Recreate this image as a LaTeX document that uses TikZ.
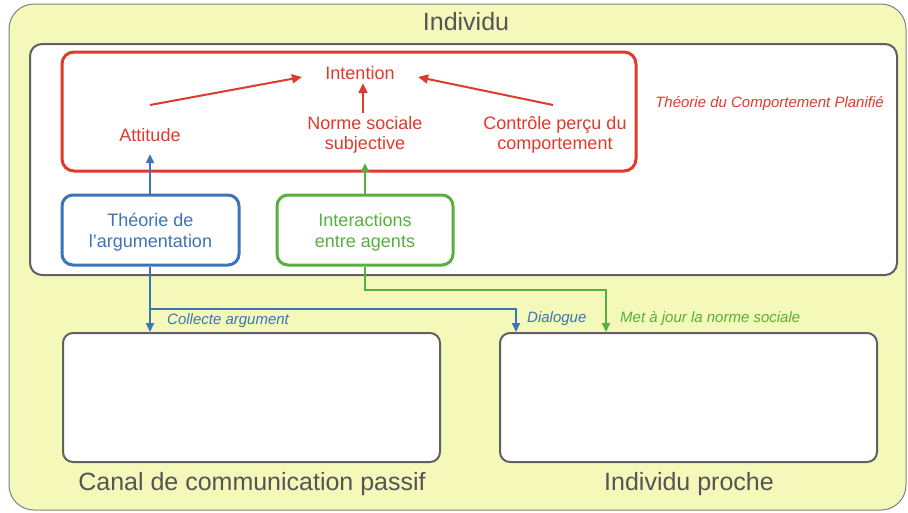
\documentclass[tikz,border=0pt]{standalone}
\usepackage{fontspec}
\setmainfont{Liberation Sans}
\usetikzlibrary{positioning,arrows.meta}
\definecolor{tcp-red}{HTML}{DF3B2C}
\definecolor{argu-blue}{HTML}{3A74B9}
\definecolor{agent-green}{HTML}{57B03D}
\definecolor{bg-yellow}{HTML}{F4F8B8}
\definecolor{frame-gray}{HTML}{606060}
\definecolor{title-gray}{HTML}{555555}
\tikzset{
    outer-box/.style = {draw=frame-gray!80, fill=bg-yellow, line width=1pt, rectangle, rounded corners=25pt},
    inner-box/.style = {draw=frame-gray, fill=white, line width=2pt, rectangle, rounded corners=12pt},
    model-box/.style = {draw=#1, fill=white, line width=3pt, rectangle, rounded corners=11pt, text=#1, align=center, text depth=0pt, font=\fontsize{18}{21}\selectfont},
    red-text/.style = {text=tcp-red, align=center, font=\fontsize{18}{20.5}\selectfont},
    side-label/.style = {text=#1, font=\fontsize{15}{18}\selectfont\itshape, inner sep=0pt},
    big-title/.style = {text=title-gray, font=\fontsize{25}{28}\selectfont},
    red-arrow/.style = {draw=tcp-red, line width=2pt, -{Triangle[length=10pt,width=9pt]}},
    flow-arrow/.style = {draw=#1, line width=2pt, -{Triangle[length=9pt,width=8pt]}},
}

\begin{document}
\begin{tikzpicture}[x=1pt, y=-1pt]
\useasboundingbox (0,0) rectangle (908,512);
% containers
\node [outer-box, minimum width=897pt, minimum height=506pt] (individu) at (457.5,257) {};
\node [big-title] (title) at (466,22) {Individu};
\node [inner-box, minimum width=867pt, minimum height=231pt] (agent) at (463.5,159.5) {};
\node [inner-box, draw=tcp-red, line width=3pt, minimum width=574pt, minimum height=119pt] (tcp) at (349,111.5) {};
\node [side-label=tcp-red] (tcp-name) at (769.5,104) {Théorie du Comportement Planifié};
% theory of planned behaviour
\node [red-text] (intention) at (360,73) {Intention};
\node [red-text] (attitude) at (150,135) {Attitude};
\node [red-text] (norme) at (365,135) {Norme sociale\\subjective};
\node [red-text] (controle) at (555,135) {Contrôle perçu du\\comportement};
\draw [red-arrow] ([yshift=30pt]attitude.center) -- ([xshift=-20pt,yshift=-4pt]intention.west);
\draw [red-arrow] ([xshift=-2pt,yshift=30pt]controle.center) -- ([xshift=20pt,yshift=-4pt]intention.east);
\draw [red-arrow] ([xshift=-2pt]norme.north) -- ([xshift=-2pt]norme.north |- intention.south);
% modules
\node [model-box=argu-blue, minimum width=177pt, minimum height=70pt] (argu) at (150.5,230) {Théorie de\\l’argumentation};
\node [model-box=agent-green, minimum width=176pt, minimum height=70pt] (inter) at (365,230) {Interactions\\entre agents};
\draw [flow-arrow=argu-blue, shorten >=9pt] ([xshift=-0.5pt]argu.north) -- ([xshift=-0.5pt]argu.north |- attitude.south);
\draw [flow-arrow=agent-green, shorten >=6pt] (inter.north) -- (inter.north |- norme.south);
% environment
\node [inner-box, rounded corners=10pt, minimum width=377pt, minimum height=129pt] (canal) at (251.5,397.5) {};
\node [inner-box, rounded corners=10pt, minimum width=377pt, minimum height=129pt] (proche) at (688.5,397.5) {};
\node [big-title] (canal-name) at (252,484) {Canal de communication passif};
\node [big-title] (proche-name) at (689,484) {Individu proche};
\coordinate (dialogue-in) at ([xshift=17pt]proche.north west);
\coordinate (maj-in) at ([xshift=107pt]proche.north west);
\draw [flow-arrow=argu-blue] ([xshift=-0.5pt]argu.south) -- ([xshift=-0.5pt]argu.south |- canal.north);
\draw [flow-arrow=argu-blue] ([xshift=-0.5pt]argu.south) ++(0,42) -| (dialogue-in);
\draw [flow-arrow=agent-green] (inter.south) -- ++(0,23) -| (maj-in);
\node [side-label=argu-blue, anchor=west] (collecte) at (167,321) {Collecte argument};
\node [side-label=argu-blue, anchor=west] (dialogue) at (527,319) {Dialogue};
\node [side-label=agent-green, anchor=west] (maj) at (620,319) {Met à jour la norme sociale};
\end{tikzpicture}
\end{document}
